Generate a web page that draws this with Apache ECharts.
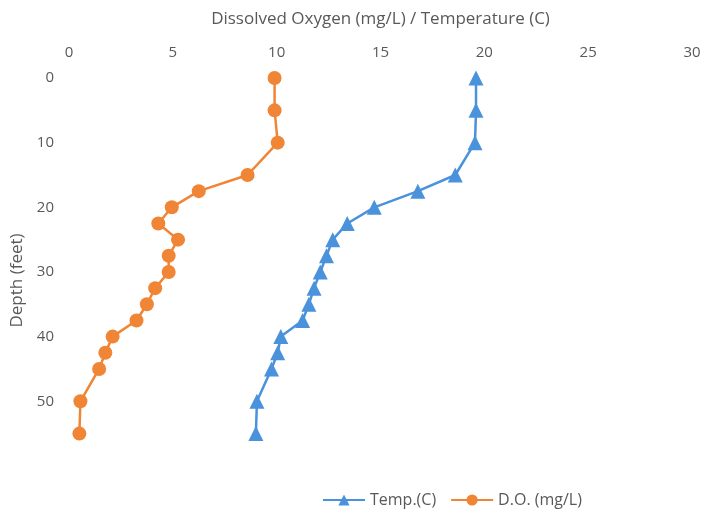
<!DOCTYPE html>
<html><head><meta charset="utf-8">
<script src="https://cdn.jsdelivr.net/npm/echarts@6/dist/echarts.min.js"></script>
<style>html,body{margin:0;padding:0;background:#fff;}#c{width:707px;height:514px;}</style>
</head><body><div id="c"></div>
<script>
const depth = [0, 5, 10, 15, 17.5, 20, 22.5, 25, 27.5, 30, 32.5, 35, 37.5, 40, 42.5, 45, 50, 55];
const tempC = [19.6, 19.6, 19.55, 18.6, 16.8, 14.7, 13.4, 12.7, 12.4, 12.1, 11.8, 11.55, 11.25, 10.2, 10.05, 9.75, 9.05, 9.0];
const doMgL = [9.9, 9.9, 10.05, 8.6, 6.25, 4.95, 4.3, 5.25, 4.8, 4.8, 4.15, 3.75, 3.25, 2.1, 1.75, 1.45, 0.55, 0.5];
const xTicks = [0, 5, 10, 15, 20, 25, 30];
const yTicks = [0, 10, 20, 30, 40, 50];

const chart = echarts.init(document.getElementById('c'));
const font = 'Open Sans';
const grey = '#595959';
chart.setOption({
  animation: false,
  textStyle: {fontFamily: font},
  grid: {left: 69, right: 15, top: 78, bottom: 61, outerBoundsMode: 'none', containLabel: false},
  xAxis: {
    type: 'value', position: 'top', min: xTicks[0], max: xTicks[xTicks.length-1], interval: 5,
    name: 'Dissolved Oxygen (mg/L) / Temperature (C)', nameLocation: 'middle', nameGap: 50,
    nameTextStyle: {color: grey, fontSize: 17, fontFamily: font},
    axisLine: {show: false}, axisTick: {show: false}, splitLine: {show: false},
    axisLabel: {color: grey, fontSize: 15, fontFamily: font, margin: 18}
  },
  yAxis: {
    type: 'value', inverse: true, min: yTicks[0], max: 58, interval: 10,
    name: 'Depth (feet)', nameLocation: 'middle', nameGap: 38,
    nameTextStyle: {color: grey, fontSize: 17, fontFamily: font, padding: [0, 30, 0, 0]},
    axisLine: {show: false}, axisTick: {show: false}, splitLine: {show: false},
    axisLabel: {color: grey, fontSize: 15, fontFamily: font, margin: 15,
      formatter: v => yTicks.includes(v) ? String(v) : ''}
  },
  legend: {
    left: 317, top: 487, itemWidth: 42, itemHeight: 14, itemGap: 14,
    textStyle: {color: grey, fontSize: 16, fontFamily: font},
    data: ['Temp.(C)', 'D.O. (mg/L)']
  },
  series: [
    {name: 'Temp.(C)', type: 'line', data: depth.map((d, i) => [tempC[i], d]),
     symbol: 'triangle', symbolSize: 15, color: '#4A92DB',
     lineStyle: {width: 2.5, color: '#4A92DB'}, itemStyle: {color: '#4A92DB'}},
    {name: 'D.O. (mg/L)', type: 'line', data: depth.map((d, i) => [doMgL[i], d]),
     symbol: 'circle', symbolSize: 14, color: '#EF8535',
     lineStyle: {width: 2.5, color: '#EF8535'}, itemStyle: {color: '#EF8535'}}
  ]
});
</script></body></html>
